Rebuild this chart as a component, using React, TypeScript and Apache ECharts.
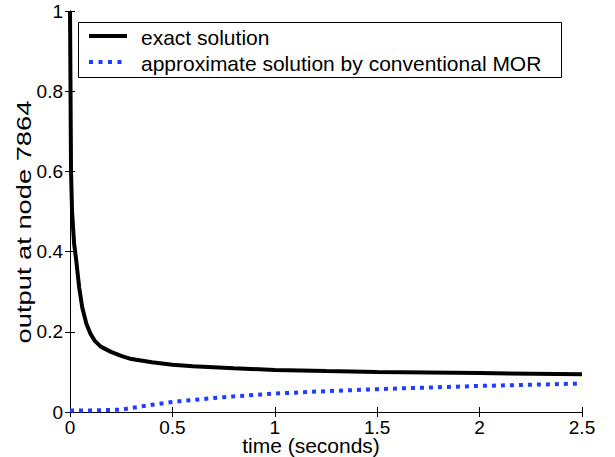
import React, { useEffect, useRef } from "react";
import * as echarts from "echarts";

const exactT = [0, 0.002, 0.005, 0.01, 0.02, 0.03, 0.045, 0.06, 0.08, 0.1, 0.12, 0.15, 0.2, 0.25, 0.3, 0.4, 0.5, 0.6, 0.8, 1.0, 1.25, 1.5, 2.0, 2.5];
const exactV = [1.0, 0.85, 0.6, 0.5, 0.42, 0.38, 0.31, 0.26, 0.22, 0.195, 0.178, 0.163, 0.15, 0.14, 0.132, 0.124, 0.118, 0.114, 0.109, 0.105, 0.102, 0.1, 0.097, 0.094];

const approxT = [0, 0.1, 0.2, 0.25, 0.3, 0.4, 0.5, 0.6, 0.75, 1.0, 1.25, 1.5, 1.75, 2.0, 2.25, 2.5];
const approxV = [0.004, 0.004, 0.005, 0.006, 0.01, 0.018, 0.025, 0.03, 0.037, 0.046, 0.052, 0.057, 0.061, 0.065, 0.068, 0.071];

const xTicks = [0, 0.5, 1, 1.5, 2, 2.5];
const yTicks = [0, 0.2, 0.4, 0.6, 0.8, 1];

const seriesNames = ["exact solution", "approximate solution by conventional MOR"];
const seriesColors = ["#000000", "#1f3dff"];
const xTitle = "time (seconds)";
const yTitle = "output at node 7864";

const FONT = "'Liberation Sans', Arial, Helvetica, sans-serif";

export default function App() {
  const ref = useRef<HTMLDivElement>(null);
  useEffect(() => {
    if (!ref.current) return;
    const chart = echarts.init(ref.current, undefined, { renderer: "svg" });
    const fmt = (v: number) => String(v);
    const axisCommon = {
      axisLine: { show: true, lineStyle: { color: "#000", width: 1 } },
      axisTick: { show: true, inside: true, length: 5, lineStyle: { color: "#000" } },
      splitLine: { show: false },
    };
    const xRange = { min: xTicks[0], max: xTicks[xTicks.length - 1], interval: xTicks[1] - xTicks[0] };
    const yRange = { min: yTicks[0], max: yTicks[yTicks.length - 1], interval: yTicks[1] - yTicks[0] };
    chart.setOption({
      animation: false,
      backgroundColor: "#fff",
      grid: { left: 70, right: 33, top: 11, bottom: 45, containLabel: false },
      xAxis: [
        {
          type: "value",
          ...xRange,
          position: "bottom",
          ...axisCommon,
          axisLabel: { fontFamily: FONT, fontSize: 19, color: "#000", margin: 6, formatter: fmt },
        },
        {
          type: "value",
          ...xRange,
          position: "top",
          ...axisCommon,
          axisLabel: { show: false },
        },
      ],
      yAxis: [
        {
          type: "value",
          ...yRange,
          position: "left",
          ...axisCommon,
          axisLabel: { fontFamily: FONT, fontSize: 19, color: "#000", margin: 7, formatter: fmt },
        },
        {
          type: "value",
          ...yRange,
          position: "right",
          ...axisCommon,
          axisLabel: { show: false },
        },
      ],
      series: [
        {
          name: seriesNames[0],
          type: "line",
          xAxisIndex: 0,
          yAxisIndex: 0,
          showSymbol: false,
          symbol: "none",
          data: exactT.map((t, i) => [t, exactV[i]]),
          lineStyle: { color: seriesColors[0], width: 4 },
          itemStyle: { color: seriesColors[0] },
        },
        {
          name: seriesNames[1],
          type: "line",
          xAxisIndex: 0,
          yAxisIndex: 0,
          showSymbol: false,
          symbol: "none",
          data: approxT.map((t, i) => [t, approxV[i]]),
          lineStyle: { color: seriesColors[1], width: 4, type: [4, 5], cap: "butt" },
          itemStyle: { color: seriesColors[1] },
        },
      ],
      graphic: [
        {
          type: "rect",
          shape: { x: 78.5, y: 22.5, width: 483, height: 55 },
          style: { fill: "#fff", stroke: "#000", lineWidth: 1 },
          z: 10,
        },
        {
          type: "line",
          shape: { x1: 89, y1: 36, x2: 127, y2: 36 },
          style: { stroke: seriesColors[0], lineWidth: 4 },
          z: 11,
        },
        {
          type: "line",
          shape: { x1: 89, y1: 62, x2: 127, y2: 62 },
          style: { stroke: seriesColors[1], lineWidth: 4, lineDash: [4, 5.5] },
          z: 11,
        },
        {
          type: "text",
          x: 141,
          y: 37,
          z: 11,
          style: { text: seriesNames[0], fontFamily: FONT, fontSize: 21, fill: "#000", align: "left", verticalAlign: "middle" },
        },
        {
          type: "text",
          x: 141,
          y: 63,
          z: 11,
          style: { text: seriesNames[1], fontFamily: FONT, fontSize: 21, fill: "#000", align: "left", verticalAlign: "middle" },
        },
        {
          type: "text",
          x: 311,
          y: 445,
          style: { text: xTitle, fontFamily: FONT, fontSize: 21, fill: "#000", align: "center", verticalAlign: "middle" },
        },
        {
          type: "text",
          x: 24,
          y: 222,
          rotation: Math.PI / 2,
          scaleX: 1.3,
          style: { text: yTitle, fontFamily: FONT, fontSize: 21, fill: "#000", align: "center", verticalAlign: "middle" },
        },
      ],
    });
    return () => chart.dispose();
  }, []);
  return (
    <div
      ref={ref}
      style={{ position: "fixed", left: 0, top: 0, width: 615, height: 457, background: "#fff" }}
    />
  );
}
